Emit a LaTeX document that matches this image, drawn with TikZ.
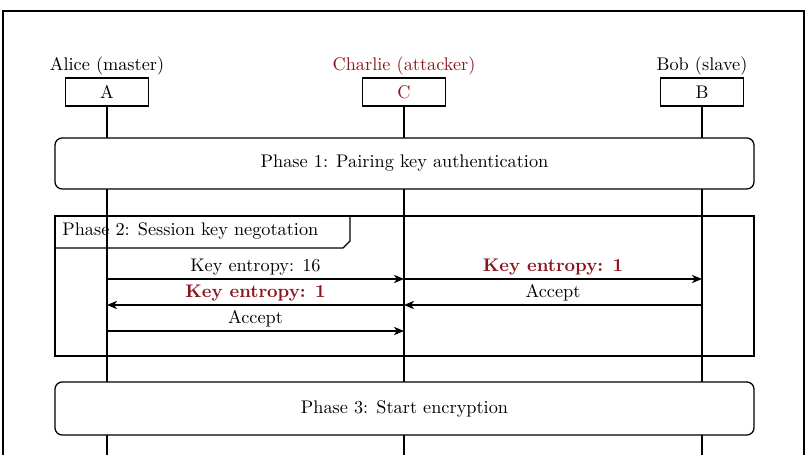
\documentclass[tikz,border=0pt]{standalone}
\usetikzlibrary{arrows.meta}

\definecolor{attacker}{RGB}{140,22,30}

\tikzset{
  actor/.style={draw,line width=0.7pt,minimum width=45.4pt,minimum height=15.3pt,inner sep=0pt},
  phase/.style={draw,line width=0.7pt,rounded corners=4pt,fill=white,minimum width=382.4pt,inner sep=0pt},
  lifeline/.style={line width=0.7pt},
  msg/.style={line width=0.7pt,-{Stealth[length=5.5pt,width=4.5pt,inset=1.6pt]}},
  msglabel/.style={above,inner sep=1.8pt},
  evil/.style={font=\bfseries,text=attacker}
}

\begin{document}
\begin{tikzpicture}[x=0.547pt,y=-0.547pt]
\useasboundingbox (0,0) rectangle (808,455);

% outer frame
\draw[line width=0.7pt] (3,11) rectangle (804,480);

% actors
\node[actor,label={[inner sep=1pt]above:Alice (master)}] (A) at (107,92) {A};
\node[actor,text=attacker,label={[inner sep=1pt,text=attacker]above:Charlie (attacker)}] (C) at (404,92) {C};
\node[actor,label={[inner sep=1pt]above:Bob (slave)}] (B) at (702,92) {B};

% lifelines
\coordinate (bottom) at (0,480);
\foreach \who in {A,C,B}
  \draw[lifeline] (\who.south) -- (\who |- bottom);

% phase 1
\node[phase,minimum height=27.9pt] (phase1) at (404.5,163.5) {Phase 1: Pairing key authentication};

% phase 2
\coordinate (p2nw) at (55,216);
\coordinate (p2se) at (754,356);
\draw[line width=0.7pt] (p2nw) rectangle (p2se);
\draw[line width=0.7pt] (350,216) -- (350,241) -- (343,248) -- (55,248);
\node[anchor=west,inner sep=0pt] (phase2) at (62,231) {Phase 2: Session key negotation};

\coordinate (a1) at (107,279);
\coordinate (c1) at (404,279);
\coordinate (b1) at (702,279);
\coordinate (a2) at (107,305);
\coordinate (c2) at (404,305);
\coordinate (b2) at (702,305);
\coordinate (a3) at (107,331);
\coordinate (c3) at (404,331);

\draw[msg] (a1) -- node[msglabel] {Key entropy: 16} (c1);
\draw[msg] (c1) -- node[msglabel,evil] {Key entropy: 1} (b1);
\draw[msg] (c2) -- node[msglabel,evil] {Key entropy: 1} (a2);
\draw[msg] (b2) -- node[msglabel] {Accept} (c2);
\draw[msg] (a3) -- node[msglabel] {Accept} (c3);

% phase 3
\node[phase,minimum height=29pt] (phase3) at (404.5,408.5) {Phase 3: Start encryption};
\end{tikzpicture}
\end{document}
